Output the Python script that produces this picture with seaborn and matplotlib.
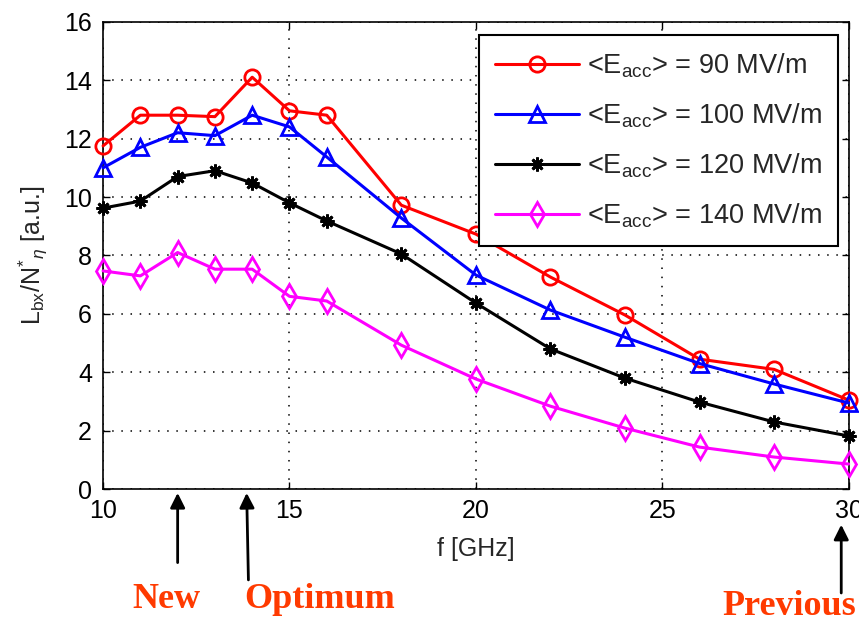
import matplotlib
matplotlib.use("Agg")
import matplotlib.pyplot as plt
import seaborn as sns
import pandas as pd

freq = [10, 11, 12, 13, 14, 15, 16, 18, 20, 22, 24, 26, 28, 30]
e90 = [11.75, 12.8, 12.8, 12.75, 14.1, 12.95, 12.8, 9.72, 8.73, 7.26, 5.96, 4.45, 4.1, 3.05]
e100 = [11.0, 11.7, 12.2, 12.1, 12.8, 12.4, 11.37, 9.28, 7.33, 6.13, 5.2, 4.3, 3.6, 2.95]
e120 = [9.62, 9.86, 10.7, 10.9, 10.48, 9.8, 9.18, 8.05, 6.37, 4.8, 3.8, 2.98, 2.3, 1.82]
e140 = [7.47, 7.3, 8.1, 7.53, 7.53, 6.6, 6.44, 4.93, 3.77, 2.84, 2.09, 1.44, 1.1, 0.86]
labels = [r'<E$_{\rm acc}$> = 90 MV/m', r'<E$_{\rm acc}$> = 100 MV/m',
          r'<E$_{\rm acc}$> = 120 MV/m', r'<E$_{\rm acc}$> = 140 MV/m']
colors = ['#ff0000', '#0000ff', '#000000', '#ff00ff']
markers = ['o', '^', (8, 2, 0), 'd']
msizes = [11, 12, 10, 12]
xticks = [10, 15, 20, 25, 30]
yticks = [0, 2, 4, 6, 8, 10, 12, 14, 16]
annots = [("New", 12.0), ("Optimum", 13.85), ("Previous", 29.8)]

sns.set_style("ticks")
plt.rcParams['font.family'] = ['Liberation Sans', 'DejaVu Sans']
plt.rcParams['mathtext.fontset'] = 'custom'
plt.rcParams['mathtext.rm'] = 'Liberation Sans'
plt.rcParams['mathtext.it'] = 'Liberation Sans:italic'

fig = plt.figure(figsize=(8.59, 6.20), dpi=100)
ax = fig.add_axes([0.120, 0.211, 0.868, 0.754])

series = [e90, e100, e120, e140]
for vals, lab, col, mk, ms in zip(series, labels, colors, markers, msizes):
    df = pd.DataFrame({"f": freq, "v": vals})
    sns.lineplot(data=df, x="f", y="v", ax=ax, color=col, marker=mk, markersize=ms,
                 markerfacecolor='none', markeredgecolor=col, markeredgewidth=2,
                 linewidth=2.2, label=lab, clip_on=False, zorder=3)

ax.set_xlim(10, 30)
ax.set_ylim(0, 16)
ax.set_xticks(xticks)
ax.set_yticks(yticks)
ax.tick_params(direction='in', top=True, right=True, labelsize=18, length=5, width=1, colors='black')
ax.tick_params(axis='x', pad=7)
ax.tick_params(axis='y', pad=8)
ax.grid(True, color='black', linestyle=(0, (1, 5)), linewidth=1.1)
for s in ax.spines.values():
    s.set_linewidth(1.2)
    s.set_color('black')
ax.set_xlabel('f [GHz]', fontsize=18, labelpad=10)
ax.set_ylabel(r'L$_{\rm bx}$/N$^{*}$$_{\eta}$ [a.u.]', fontsize=18, labelpad=10)

leg = ax.legend(loc='upper right', bbox_to_anchor=(0.986, 0.972), fontsize=19.5,
                frameon=True, fancybox=False, framealpha=1, edgecolor='black',
                handlelength=3.1, labelspacing=0.8, borderpad=0.6, handletextpad=0.3,
                borderaxespad=0)
leg.get_frame().set_linewidth(1.5)
leg.set_zorder(5)

tcol = '#ff3a00'
tfont = dict(family=['Liberation Serif', 'DejaVu Serif'], weight='bold', size=26, color=tcol)
ap = dict(arrowstyle='-|>', color='black', lw=2, mutation_scale=22)
# New
ax.annotate('', xy=(annots[0][1], -0.002), xycoords=('data', 'axes fraction'),
            xytext=(annots[0][1], -0.163), textcoords=('data', 'axes fraction'),
            arrowprops=ap, annotation_clip=False)
ax.text(11.7, -0.235, annots[0][0], transform=ax.get_xaxis_transform(),
        ha='center', va='center', **tfont)
# Optimum
ax.annotate('', xy=(annots[1][1], -0.002), xycoords=('data', 'axes fraction'),
            xytext=(annots[1][1] + 0.05, -0.2), textcoords=('data', 'axes fraction'),
            arrowprops=ap, annotation_clip=False)
ax.text(annots[1][1] - 0.05, -0.237, annots[1][0], transform=ax.get_xaxis_transform(),
        ha='left', va='center', **tfont)
# Previous
ax.annotate('', xy=(annots[2][1], -0.07), xycoords=('data', 'axes fraction'),
            xytext=(annots[2][1], -0.228), textcoords=('data', 'axes fraction'),
            arrowprops=ap, annotation_clip=False)
ax.text(26.6, -0.25, annots[2][0], transform=ax.get_xaxis_transform(),
        ha='left', va='center', **tfont)

fig.savefig('out.png', dpi=100)
